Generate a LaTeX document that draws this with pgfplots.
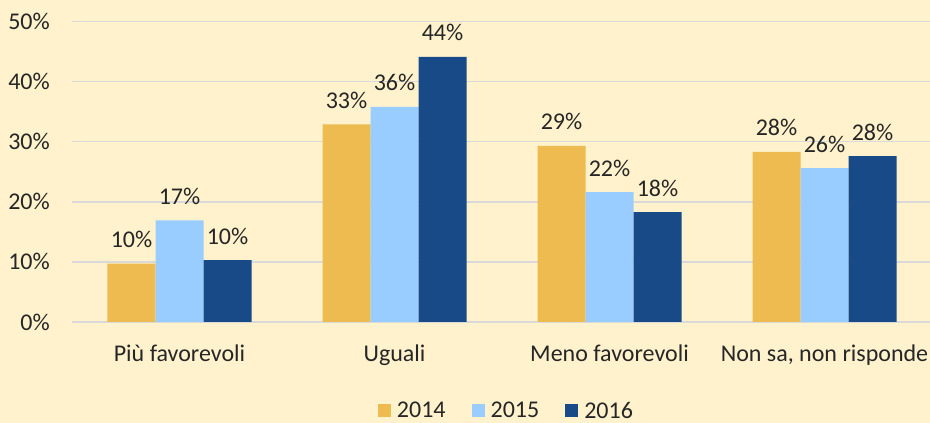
\documentclass[border=0pt]{standalone}
\usepackage{pgfplots}
\pgfplotsset{compat=1.18}
\usepackage{fontspec}
\setmainfont{Carlito}
\definecolor{bg}{HTML}{FFF2CC}
\definecolor{c14}{HTML}{EDBB4F}
\definecolor{c15}{HTML}{99CCFF}
\definecolor{c16}{HTML}{174A87}
\definecolor{gridc}{HTML}{D9D9D9}
\definecolor{txt}{HTML}{262626}
\pgfkeys{/pgf/number format/assume math mode=true}
\newcommand{\cf}{\fontsize{24}{28}\selectfont\color{txt}}
\newcommand{\gap}[1]{\rule{#1}{0pt}}
\begin{document}
\begin{tikzpicture}[x=1pt,y=1pt]
\fill[bg] (0,0) rectangle (930,423);
\begin{axis}[
  at={(72pt,101pt)}, anchor=south west,
  scale only axis, width=860pt, height=300.5pt,
  ymin=0, ymax=50, xmin=-0.5, xmax=3.5,
  ybar=0pt, bar width=48pt,
  axis line style={draw=none},
  major tick length=0pt,
  ytick={0,10,20,30,40,50},
  yticklabel={\pgfmathprintnumber{\tick}\%},
  ymajorgrids, grid style={gridc, line width=1.5pt},
  xtick={0,1,2,3},
  xticklabels={Più favorevoli, Uguali, Meno favorevoli, {Non sa, non risponde}},
  yticklabel style={font=\cf, inner sep=0pt, xshift=-22pt},
  xticklabel style={font=\cf, inner sep=0pt, anchor=base, yshift=-40pt},
  nodes near coords={\pgfmathprintnumber[fixed,precision=0]{\pgfplotspointmeta}\%},
  nodes near coords style={font=\cf, inner sep=0pt, anchor=base, yshift=16pt},
  legend columns=3,
  legend style={at={(axis description cs:0.504,-0.296)}, anchor=center,
    draw=none, fill=none, font=\cf, nodes={inner sep=0pt},
    /tikz/column sep=0pt},
  legend image code/.code={\fill[#1] (0pt,-6.5pt) rectangle (13pt,6.5pt);},
  clip=false,
]
\addplot[fill=c14, draw=none] coordinates {(0,9.7) (1,32.9) (2,29.3) (3,28.3)};
\addplot[fill=c15, draw=none] coordinates {(0,16.9) (1,35.8) (2,21.6) (3,25.6)};
\addplot[fill=c16, draw=none] coordinates {(0,10.3) (1,44.1) (2,18.3) (3,27.6)};
\legend{\gap{6pt}2014\gap{26pt},\gap{6pt}2015\gap{26pt},\gap{6pt}2016}
\end{axis}
\pgfresetboundingbox
\useasboundingbox (0,0) rectangle (930,423);
\end{tikzpicture}
\end{document}
